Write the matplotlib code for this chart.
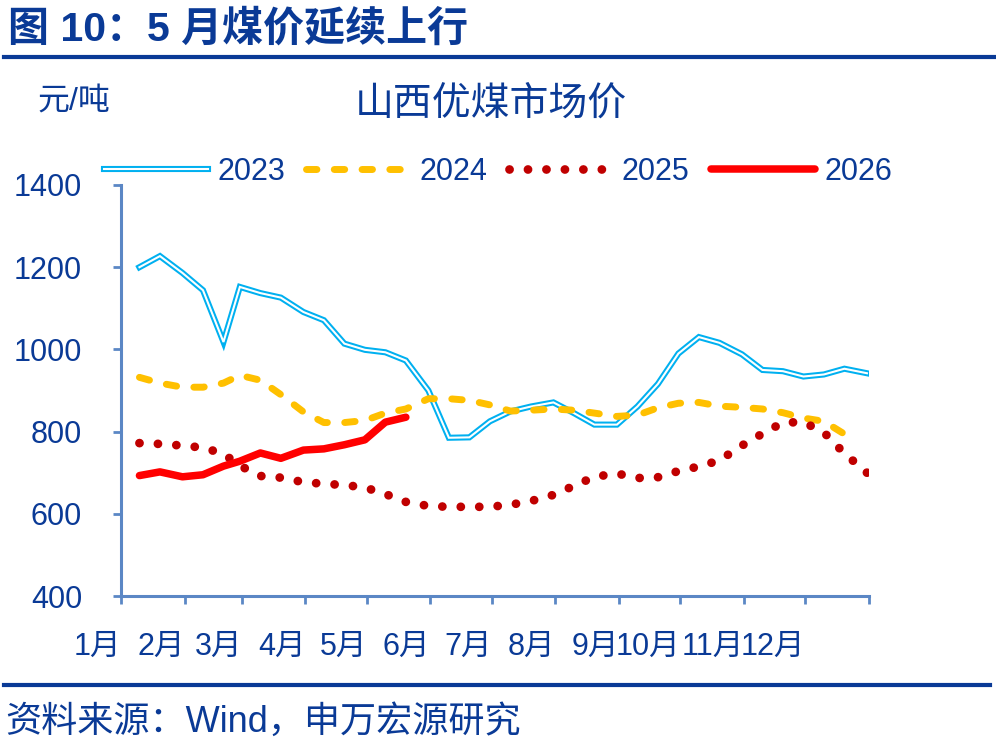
import pandas as pd
import matplotlib
matplotlib.use('Agg')
import matplotlib.pyplot as plt
from matplotlib.lines import Line2D

plt.rcParams['font.family'] = ['Liberation Sans', 'Noto Sans CJK SC']

# 山西优煤市场价, 元/吨, 每旬 (10日, 20日, 月末)
v2023 = [1200, 1227, 1186, 1144, 1018, 1152, 1137, 1126, 1091, 1071, 1014, 999,
         993, 973, 900, 785, 786, 825, 849, 861, 871, 845, 817, 817,
         861, 916, 990, 1030, 1016, 988, 950, 947, 934, 939, 953, 942]
v2024 = [932, 918, 908, 908, 918, 937, 925, 890, 848, 822, 822, 827,
         845, 855, 880, 880, 876, 865, 850, 852, 855, 852, 845, 837,
         840, 858, 869, 871, 862, 859, 855, 846, 833, 825, 794]
v2025 = [772, 770, 766, 761, 746, 717, 692, 688, 677, 673, 670, 664,
         648, 629, 619, 617, 617, 617, 622, 631, 646, 668, 690, 698,
         687, 689, 704, 715, 730, 766, 795, 822, 823, 798, 747, 700]
v2026 = [693, 702, 690, 695, 716, 728, 748, 735, 755, 758, 768, 780, 823, 835]

months = ['1月', '2月', '3月', '4月', '5月', '6月', '7月', '8月', '9月', '10月', '11月', '12月']

# x = day of year (non-leap calendar)
xs = []
for m in range(1, 13):
    for d in (10, 20, pd.Timestamp(2023, m, 1).days_in_month):
        xs.append(pd.Timestamp(2023, m, d).dayofyear - 1)
month_start = [pd.Timestamp(2023, m, 1).dayofyear - 1 for m in range(1, 13)] + [365]

NAVY = '#0A3A96'
AXC = '#5B87C5'

fig = plt.figure(figsize=(9.96, 7.5), dpi=100)
ax = fig.add_axes([121 / 996, 1 - 596 / 750, (869 - 121) / 996, (596 - 185) / 750])

l23a, = ax.plot(xs[:len(v2023)], v2023, color='#00B0F0', lw=4.4, solid_joinstyle='miter', zorder=2)
l23b, = ax.plot(xs[:len(v2023)], v2023, color='white', lw=1.5, solid_joinstyle='miter', zorder=2.1)
l24, = ax.plot(xs[:len(v2024)], v2024, color='#FFC000', lw=5, linestyle=(0, (1.5, 2.5)),
               dash_capstyle='round', zorder=3)
l25, = ax.plot(xs[:len(v2025)], v2025, color='#C00000', lw=6.3, linestyle=(0, (0.01, 2.1)),
               dash_capstyle='round', zorder=4)
l26, = ax.plot(xs[:len(v2026)], v2026, color='#FF0000', lw=5.4, solid_capstyle='round', zorder=5)

ax.set_xlim(0, 365)
ax.set_ylim(400, 1400)
ax.set_yticks(range(400, 1401, 200))
ax.set_xticks(month_start)
ax.set_xticklabels(months + [''])
for lab in ax.get_xticklabels():
    lab.set_ha('right')

for s in ['top', 'right']:
    ax.spines[s].set_visible(False)
for s in ['left', 'bottom']:
    ax.spines[s].set_color(AXC)
    ax.spines[s].set_linewidth(2.2)
ax.tick_params(axis='both', direction='out', length=6, width=2, color=AXC, labelcolor=NAVY)
ax.tick_params(axis='y', labelsize=22, pad=22)
ax.tick_params(axis='x', labelsize=22, pad=20)

leg = fig.legend([(l23a, l23b), l24, l25, l26], ['2023', '2024', '2025', '2026'],
                 loc='center', bbox_to_anchor=(0.5, 1 - 172 / 750), ncol=4, frameon=False,
                 fontsize=22, handlelength=3.4, handletextpad=0.3, columnspacing=0.7,
                 labelcolor=NAVY, borderaxespad=0)

fig.text(8 / 996, 1 - 29 / 750, '图 10：5 月煤价延续上行', fontsize=29.5, fontweight='bold',
         color=NAVY, va='center', ha='left')
fig.add_artist(Line2D([4 / 996, 1], [1 - 57 / 750] * 2, transform=fig.transFigure, color=NAVY, lw=3))
fig.text(74 / 996, 1 - 103 / 750, '元/吨', fontsize=23, color=NAVY, va='center', ha='center')
fig.text(491 / 996, 1 - 104 / 750, '山西优煤市场价', fontsize=28, color=NAVY, va='center', ha='center')
fig.add_artist(Line2D([4 / 996, 990 / 996], [1 - 685 / 750] * 2, transform=fig.transFigure, color=NAVY, lw=3))
fig.text(5 / 996, 1 - 722 / 750, '资料来源：Wind，申万宏源研究', fontsize=26, color=NAVY, va='center', ha='left')

fig.savefig('out.png', dpi=100)
